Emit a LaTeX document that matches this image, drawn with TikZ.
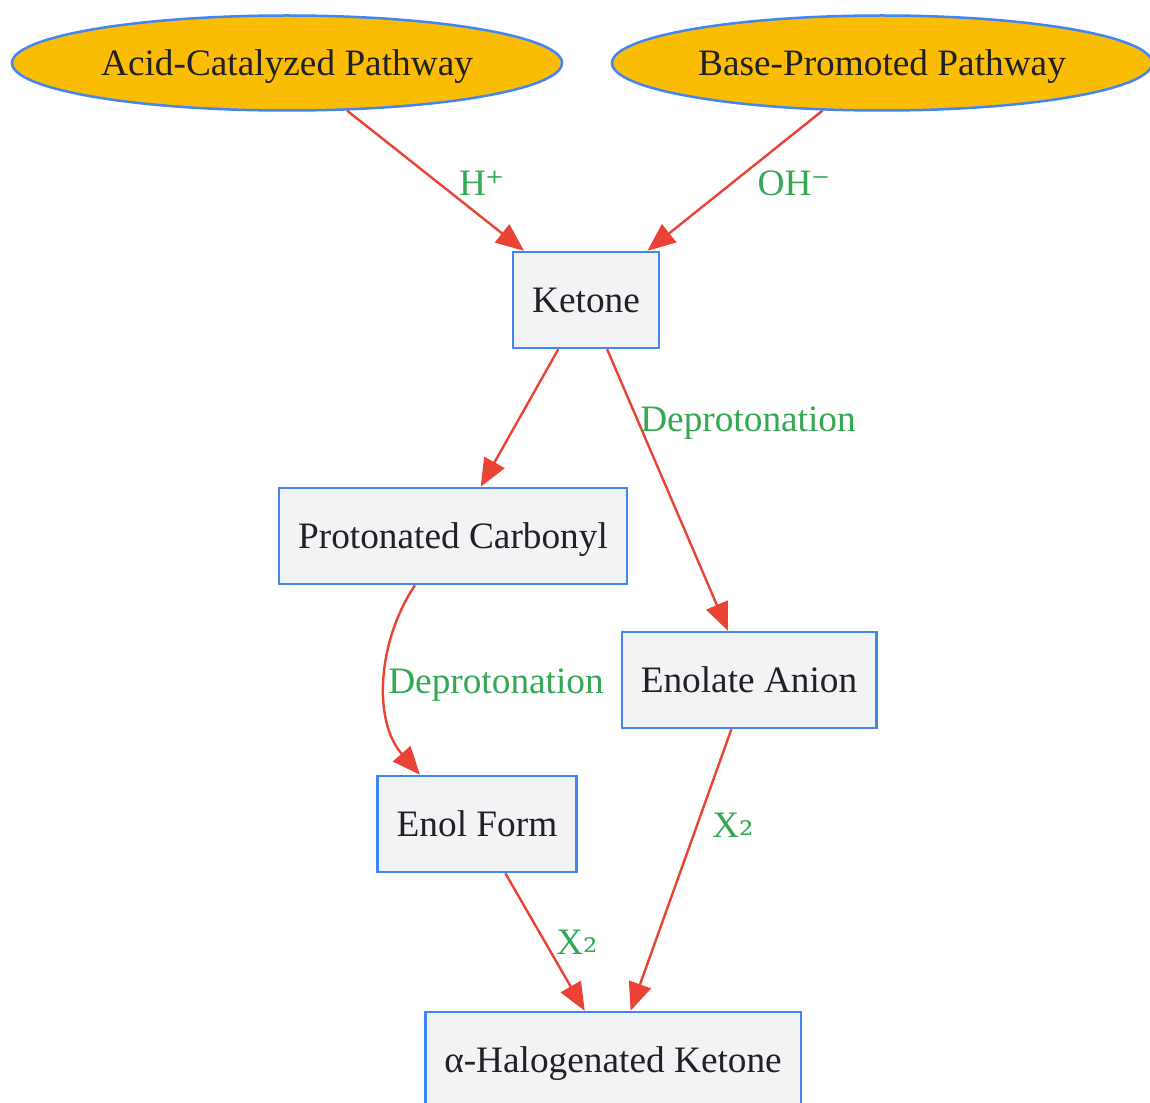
\documentclass[tikz,border=0pt]{standalone}
\usepackage{fontspec}
\setmainfont{Liberation Serif}
\newfontfamily\symfont{DejaVu Serif}
\usetikzlibrary{shapes.geometric,arrows.meta,calc}
\definecolor{edgered}{HTML}{EA4335}
\definecolor{lblgreen}{HTML}{34A853}
\definecolor{nodeblue}{HTML}{4285F4}
\definecolor{pathyellow}{HTML}{FBBC04}
\definecolor{nodefill}{HTML}{F1F3F4}
\definecolor{txt}{HTML}{202124}
\newcommand{\symtxt}[1]{{\symfont\fontsize{36}{42}\selectfont #1}}
\tikzset{
  x=1pt, y=-1pt,
  every node/.style={font=\fontsize{37.3}{44}\selectfont, text=txt},
  pathway/.style={ellipse, draw=nodeblue, line width=2.5pt, fill=pathyellow,
    minimum width=550pt, minimum height=95pt, inner sep=0pt, text height=25pt, text depth=0pt},
  stepbox/.style={rectangle, draw=nodeblue, line width=2.5pt, fill=nodefill,
    minimum height=96pt, inner xsep=19pt, inner ysep=0pt, text height=25pt, text depth=0pt},
  conn/.style={draw=edgered, line width=2.4pt, -{Triangle[length=28pt,width=23pt]}},
  lbl/.style={text=lblgreen, anchor=base, inner sep=0pt},
}
\begin{document}
\begin{tikzpicture}
\useasboundingbox[fill=white] (0,0) rectangle (1150,1102);
\node[pathway] (acid) at (287,63) {Acid-Catalyzed Pathway};
\node[pathway, minimum width=540pt] (base) at (882,63) {Base-Promoted Pathway};
\node[stepbox] (ket) at (586,300) {Ketone};
\node[stepbox] (prot) at (453,536) {Protonated Carbonyl};
\node[stepbox] (enolate) at (749,680) {Enolate Anion};
\node[stepbox] (enol) at (477,824) {Enol Form};
\node[stepbox] (halo) at (613,1060) {α-Halogenated Ketone};

\draw[conn] (acid) -- (ket);
\draw[conn] (base) -- (ket);
\draw[conn] (ket) -- (prot);
\draw[conn] (ket) -- (enolate);
\draw[conn] ([xshift=-38pt]prot.south) .. controls (378,640) and (372,720) .. ([xshift=-57pt]enol.north);
\draw[conn] (enolate) -- (halo);
\draw[conn] (enol) -- (halo);

\node[lbl] (l1) at (482,195) {H\symtxt{⁺}};
\node[lbl] (l2) at (794,195) {OH\symtxt{⁻}};
\node[lbl] (l3) at (748,431) {Deprotonation};
\node[lbl] (l4) at (496,693) {Deprotonation};
\node[lbl] (l5) at (733,837) {X\raisebox{1.5pt}{\symtxt{₂}}};
\node[lbl] (l6) at (577,954) {X\raisebox{1.5pt}{\symtxt{₂}}};
\end{tikzpicture}
\end{document}
